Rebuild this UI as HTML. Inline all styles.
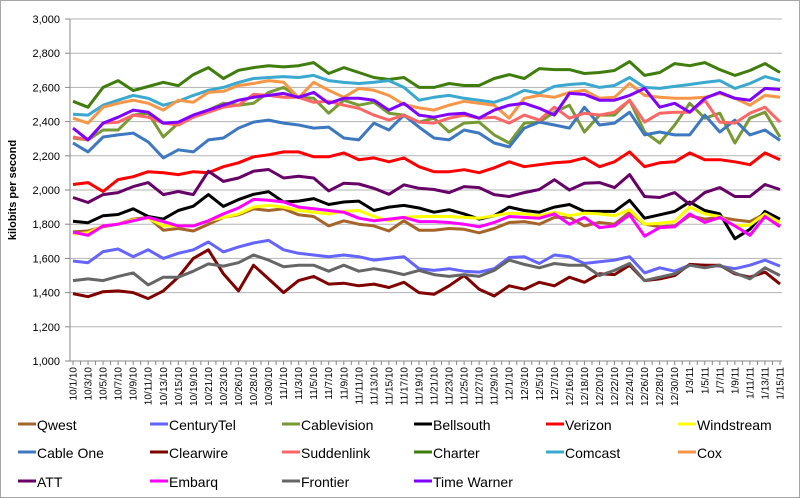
<!DOCTYPE html>
<html><head><meta charset="utf-8"><style>
html,body{margin:0;padding:0;background:#fff;}
svg{display:block;font-family:"Liberation Sans",Arial,sans-serif;}
</style></head><body>
<svg id="chart" width="800" height="498" viewBox="0 0 800 498" xmlns="http://www.w3.org/2000/svg">
<rect x="0.5" y="0.5" width="799" height="497" fill="#fff" stroke="#a6a6a6"/>
<g id="grid"></g><g id="axes"></g><g id="series"></g><g id="legend"></g>
</svg>
<script>
const categories = ["10/1/10","10/3/10","10/5/10","10/7/10","10/9/10","10/11/10","10/13/10","10/15/10","10/19/10","10/21/10","10/23/10","10/26/10","10/28/10","10/30/10","11/1/10","11/3/10","11/5/10","11/7/10","11/9/10","11/11/10","11/13/10","11/15/10","11/17/10","11/19/10","11/21/10","11/23/10","11/25/10","11/27/10","11/29/10","12/1/10","12/3/10","12/5/10","12/7/10","12/16/10","12/18/10","12/20/10","12/22/10","12/24/10","12/26/10","12/28/10","12/30/10","1/3/11","1/5/11","1/7/11","1/9/11","1/11/11","1/13/11","1/15/11"];
const yTicks = [1000,1200,1400,1600,1800,2000,2200,2400,2600,2800,3000];
const seriesNames = ["Qwest","CenturyTel","Cablevision","Bellsouth","Verizon","Windstream","Cable One","Clearwire","Suddenlink","Charter","Comcast","Cox","ATT","Embarq","Frontier","Time Warner"];
const seriesColors = ["#a5652a","#6464ff","#779a35","#000000","#ff0000","#ffff00","#3d78c0","#800000","#ff6666","#3f7d0c","#3aa8cf","#f79646","#660066","#ff00ff","#666666","#8000ff"];
const qwest = [1755,1760,1785,1800,1830,1840,1765,1775,1760,1800,1840,1855,1890,1880,1890,1855,1845,1790,1820,1800,1790,1760,1820,1765,1765,1775,1770,1750,1775,1810,1815,1800,1840,1840,1790,1810,1800,1870,1800,1785,1790,1850,1830,1840,1825,1815,1860,1790];
const centuryTel = [1585,1575,1640,1655,1610,1650,1600,1630,1650,1696,1638,1667,1690,1705,1650,1630,1620,1610,1620,1610,1590,1600,1610,1540,1530,1540,1525,1520,1540,1605,1610,1570,1620,1610,1570,1580,1590,1610,1515,1545,1525,1560,1560,1555,1540,1560,1590,1555];
const cablevision = [2304,2293,2351,2351,2438,2449,2310,2391,2426,2467,2507,2496,2507,2571,2600,2542,2536,2449,2525,2496,2513,2449,2438,2397,2420,2339,2391,2397,2322,2275,2391,2397,2455,2496,2339,2438,2438,2525,2339,2275,2380,2507,2420,2449,2275,2420,2455,2310];
const bellsouth = [1817,1809,1850,1857,1890,1845,1830,1880,1905,1973,1904,1944,1975,1990,1930,1935,1950,1915,1930,1935,1880,1900,1910,1895,1870,1885,1860,1830,1850,1900,1880,1870,1900,1915,1875,1875,1875,1940,1835,1855,1875,1930,1880,1860,1715,1770,1875,1830];
const verizon = [2032,2043,1991,2061,2078,2107,2101,2090,2107,2101,2136,2159,2194,2206,2223,2223,2194,2194,2217,2177,2188,2165,2188,2136,2107,2107,2119,2101,2130,2165,2136,2148,2159,2165,2188,2136,2165,2223,2136,2159,2165,2217,2177,2177,2165,2148,2217,2177];
const windstream = [1742,1750,1790,1800,1825,1835,1790,1790,1790,1820,1840,1860,1900,1910,1900,1880,1870,1860,1875,1880,1845,1820,1840,1845,1845,1845,1840,1835,1850,1865,1860,1850,1870,1850,1865,1860,1850,1885,1800,1805,1815,1900,1860,1845,1790,1795,1860,1810];
const cableOne = [2275,2223,2310,2322,2333,2281,2188,2235,2223,2293,2304,2362,2397,2409,2391,2380,2362,2368,2304,2293,2391,2351,2438,2368,2304,2293,2351,2333,2275,2252,2362,2397,2380,2362,2484,2380,2391,2455,2322,2339,2322,2322,2438,2339,2409,2322,2351,2290];
const clearwire = [1394,1376,1405,1410,1400,1365,1410,1490,1600,1650,1510,1410,1560,1480,1400,1470,1495,1450,1455,1440,1450,1430,1460,1400,1390,1440,1500,1420,1380,1440,1420,1460,1440,1490,1460,1510,1505,1560,1470,1480,1500,1565,1560,1560,1510,1490,1520,1450];
const suddenlink = [2310,2293,2391,2397,2438,2426,2391,2380,2426,2455,2484,2496,2559,2553,2542,2542,2513,2519,2496,2478,2438,2409,2438,2397,2391,2420,2438,2420,2426,2391,2438,2409,2484,2420,2449,2438,2455,2525,2397,2449,2455,2455,2525,2397,2391,2449,2484,2397];
const charter = [2519,2484,2600,2640,2582,2605,2630,2610,2675,2716,2652,2700,2716,2727,2720,2727,2745,2681,2716,2687,2658,2646,2658,2600,2600,2623,2611,2611,2652,2675,2652,2710,2704,2704,2681,2687,2699,2751,2670,2687,2739,2727,2745,2704,2670,2699,2739,2687];
const comcast = [2443,2438,2496,2525,2553,2536,2496,2519,2553,2583,2600,2629,2652,2658,2663,2658,2670,2640,2629,2623,2630,2640,2600,2525,2542,2553,2536,2525,2513,2542,2583,2565,2606,2617,2623,2600,2611,2658,2600,2594,2606,2617,2629,2640,2594,2623,2663,2640];
const cox = [2420,2391,2484,2507,2525,2507,2467,2525,2513,2571,2577,2611,2623,2640,2630,2540,2630,2583,2542,2594,2583,2553,2500,2480,2467,2496,2519,2507,2496,2420,2536,2553,2542,2571,2583,2536,2542,2623,2553,2542,2536,2536,2542,2565,2536,2496,2553,2542];
const att = [1956,1927,1973,1985,2020,2043,1973,1991,1973,2110,2050,2070,2110,2120,2070,2080,2070,1995,2040,2035,2010,1975,2030,2010,2003,1985,2020,2014,1973,1962,1985,2003,2060,2000,2040,2043,2014,2090,1962,1956,1985,1916,1985,2014,1962,1962,2032,2003];
const embarq = [1754,1735,1790,1800,1820,1840,1815,1790,1790,1820,1860,1895,1945,1940,1930,1900,1890,1880,1870,1835,1820,1830,1840,1815,1815,1810,1800,1785,1810,1845,1840,1835,1860,1800,1840,1780,1790,1855,1730,1780,1785,1860,1810,1840,1790,1735,1845,1785];
const frontier = [1470,1480,1470,1495,1515,1445,1490,1490,1525,1568,1555,1575,1620,1590,1551,1560,1560,1525,1560,1525,1540,1525,1505,1530,1505,1495,1505,1495,1530,1590,1565,1545,1570,1560,1560,1500,1530,1570,1470,1490,1510,1560,1545,1560,1515,1480,1545,1500];
const timeWarner = [2362,2293,2391,2426,2467,2455,2391,2397,2438,2467,2496,2525,2542,2553,2565,2542,2571,2507,2536,2536,2525,2467,2507,2438,2426,2443,2449,2420,2467,2496,2507,2478,2438,2565,2559,2525,2525,2553,2594,2484,2507,2455,2536,2571,2536,2525,2594,2588];
const seriesValues = [qwest,centuryTel,cablevision,bellsouth,verizon,windstream,cableOne,clearwire,suddenlink,charter,comcast,cox,att,embarq,frontier,timeWarner];

const NS = "http://www.w3.org/2000/svg";
const plotL = 70, plotR = 782, plotT = 19, plotB = 361, yMin = 1000, yMax = 3000;
const x0 = 73, x1 = 780;
function xScale(i){ return x0 + i * (x1 - x0) / (categories.length - 1); }
function yScale(v){ return plotB - (v - yMin) / (yMax - yMin) * (plotB - plotT); }
function mk(tag, attrs, parent){ const e = document.createElementNS(NS, tag); for (const k in attrs) e.setAttribute(k, attrs[k]); parent.appendChild(e); return e; }
const grid = document.getElementById('grid'), axes = document.getElementById('axes'), ser = document.getElementById('series'), leg = document.getElementById('legend');

yTicks.forEach(t => {
  const y = yScale(t);
  const gl = mk('line', {x1: plotL, x2: plotR, y1: y, y2: y, stroke: '#b3b3b3', 'stroke-width': 1}, grid);
  
  
  const tk = mk('line', {x1: plotL - 5, x2: plotL, y1: y, y2: y, stroke: '#888', 'stroke-width': 1}, axes);
  
  
  const tx = mk('text', {x: plotL - 10, y: y + 4, 'text-anchor': 'end', 'font-size': 11, fill: '#000'}, axes);
  tx.textContent = t.toLocaleString('en-US');
  
  
});
const yAxis = mk('line', {x1: plotL, x2: plotL, y1: plotT, y2: plotB, stroke: '#888'}, axes);


const xAxis = mk('line', {x1: plotL, x2: plotR, y1: plotB, y2: plotB, stroke: '#888'}, axes);


const yTitle = mk('text', {x: 0, y: 0, transform: 'translate(16,190) rotate(-90)', 'text-anchor': 'middle', 'font-size': 11, 'font-weight': 'bold', fill: '#000'}, axes);
yTitle.textContent = 'kilobits per second';



const step = (x1 - x0) / (categories.length - 1);
for (let k = 0; k <= categories.length * 2 - 1; k++) {
  const x = x0 + k * step / 2;
  if (x > plotR) break;
  const tk = mk('line', {x1: x, x2: x, y1: plotB, y2: plotB + 4, stroke: '#888'}, axes);
  
  
}
categories.forEach((c, i) => {
  const x = xScale(i) + 3.5;
  const t = mk('text', {x: 0, y: 0, transform: `translate(${x},367) rotate(-90)`, 'text-anchor': 'end', 'font-size': 10, fill: '#000'}, axes);
  t.textContent = c;
  
  
});

seriesValues.forEach((vals, s) => {
  const d = vals.map((v, i) => (i ? 'L' : 'M') + xScale(i).toFixed(1) + ' ' + yScale(v).toFixed(1)).join(' ');
  const p = mk('path', {d: d, fill: 'none', stroke: seriesColors[s], 'stroke-width': 3, 'stroke-linejoin': 'round'}, ser);
  
  
});

const legRows = [425, 453, 482];
seriesNames.forEach((n, s) => {
  const row = Math.floor(s / 6), col = s % 6;
  const tx = 37 + col * 132, y = legRows[row];
  const g = mk('g', {}, leg);
  
  
  mk('line', {x1: tx - 19, x2: tx - 1, y1: y - 1, y2: y - 1, stroke: seriesColors[s], 'stroke-width': 3}, g);
  const t = mk('text', {x: tx, y: y + 5, 'font-size': 14, fill: '#000'}, g);
  t.textContent = n;
});
</script>
</body></html>
